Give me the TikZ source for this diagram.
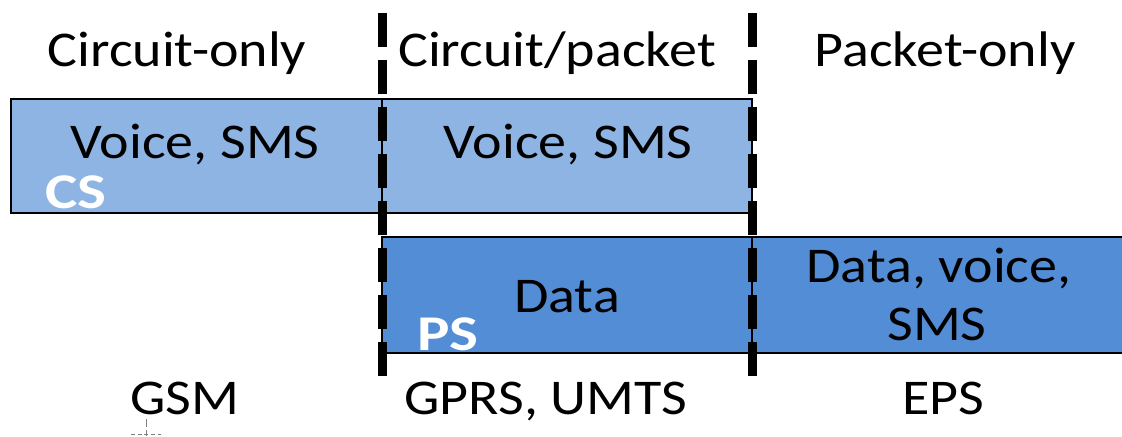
\documentclass[tikz,border=0pt]{standalone}
\usepackage{graphicx}
\usepackage{fontspec}
\setmainfont{Carlito}
\definecolor{csblue}{RGB}{141,180,226}
\definecolor{psblue}{RGB}{83,141,213}
% slightly widened lettering
\newcommand\widetext[1]{\scalebox{1.12}[1]{#1}}
\newcommand\widetag[1]{\scalebox{1.22}[1]{#1}}
\begin{document}
\begin{tikzpicture}[x=0.75pt,y=-0.75pt,
  txt/.style={font=\fontsize{37.5}{44}\selectfont, inner sep=0, anchor=base},
  tag/.style={font=\fontsize{37.5}{44}\selectfont\bfseries, text=white, inner sep=0, anchor=base west},
  band/.style={draw=black, line width=1.5pt, inner sep=0, minimum height=#1*0.75pt},
  divider/.style={line width=6.75pt, dash pattern=on 25.5pt off 9.75pt}]
\useasboundingbox (0,0) rectangle (1122,436);

% circuit-switched domain
\node[band=114, fill=csblue, minimum width=371*0.75pt] (cs1) at (196.5,156) {};
\node[band=114, fill=csblue, minimum width=370*0.75pt] (cs2) at (567,156) {};
% packet-switched domain
\node[band=116, fill=psblue, minimum width=370*0.75pt] (ps1) at (567,295) {};
\node[band=116, fill=psblue, minimum width=378*0.75pt] (ps2) at (941,295) {};

% era dividers
\coordinate (d1t) at (382,13);
\coordinate (d1b) at (382,377);
\coordinate (d2t) at (752,13);
\coordinate (d2b) at (752,377);
\draw[divider] (d1t) -- (d1b);
\draw[divider] (d2t) -- (d2b);

% headings
\node[txt] (h1) at (177,66) {\widetext{Circuit-only}};
\node[txt] (h2) at (557,66) {\widetext{Circuit/packet}};
\node[txt] (h3) at (945,66) {\widetext{Packet-only}};

% band contents
\node[txt] (v1) at (195,158) {\widetext{Voice, SMS}};
\node[txt] (v2) at (568,158) {\widetext{Voice, SMS}};
\node[txt] (d1) at (567,312) {\widetext{Data}};
\node[txt] (d2) at (939,282) {\widetext{Data, voice,}};
\node[txt] (d3) at (937,340) {\widetext{SMS}};
\node[tag] (cs) at (45,208) {\widetag{CS}};
\node[tag] (ps) at (417,350) {\widetag{PS}};

% systems
\node[txt] (s1) at (185,414) {\widetext{GSM}};
\node[txt] (s2) at (546,414) {\widetext{GPRS, UMTS}};
\node[txt] (s3) at (943,414) {\widetext{EPS}};

% pointer mark
\draw[gray, line width=0.75pt] (146,419) -- (146,427);
\draw[gray, line width=0.75pt, dash pattern=on 3pt off 2pt] (131,434) -- (161,434);
\draw[gray, line width=0.75pt] (146,430) -- (146,436);
\end{tikzpicture}
\end{document}
